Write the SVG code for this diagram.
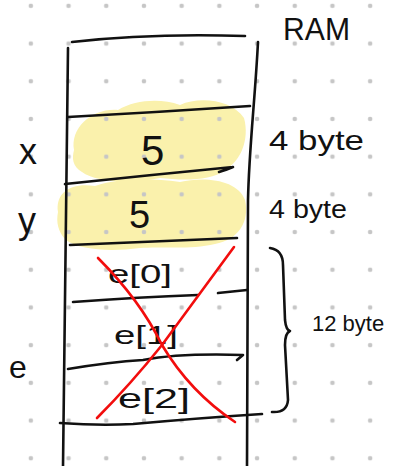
<svg xmlns="http://www.w3.org/2000/svg" width="393" height="466" viewBox="0 0 393 466">
<defs>
<style>
.dot{fill:#c6c6c6}
.ink{fill:none;stroke:#111;stroke-width:2.6;stroke-linecap:round;stroke-linejoin:round}
.red{fill:none;stroke:#f20d0d;stroke-width:2.6;stroke-linecap:round}
.hl{fill:#faf1ac}
.t{font-family:"Liberation Sans","DejaVu Sans",sans-serif;fill:#111}
</style>
<pattern id="grid" x="12" y="-13" width="37.7" height="37.7" patternUnits="userSpaceOnUse">
<circle class="dot" cx="18.85" cy="18.85" r="2.3"/>
</pattern>
</defs>
<rect width="393" height="466" fill="#fff"/>
<g id="highlights">
<path class="hl" d="M74,150 C70,128 92,108 118,110 C135,100 160,98 180,105 C200,96 232,100 244,118 C250,140 240,162 225,170 C210,182 180,180 160,178 C130,184 95,182 82,172 C72,166 72,158 74,150 Z"/>
<path class="hl" d="M58,212 C55,192 72,182 95,186 C120,178 150,178 180,182 C205,176 238,180 245,200 C250,222 238,240 215,244 C190,250 160,246 140,248 C110,252 80,250 66,240 C58,232 56,222 58,212 Z"/>
</g>
<rect width="393" height="466" fill="url(#grid)"/>
<g id="ram">
<path class="ink" d="M68,48 Q65,250 63,466"/>
<path class="ink" d="M258,42 C255,100 249,150 248,200 L247,466"/>
<path class="ink" d="M72,42 Q150,33 245,36"/>
<path class="ink" d="M68,117 Q160,112 250,106"/>
<path class="ink" d="M65,184 Q150,175 233,167 M219,172 Q226,170 233,167"/>
<path class="ink" d="M70,245 L237,238"/>
<path class="ink" d="M73,302 Q140,297 198,295 M218,293 L247,290"/>
<path class="ink" d="M68,369 Q110,362 143,360 Q180,353 243,355 L237,360"/>
<path class="ink" d="M60,423 Q100,426 133,424 Q200,418 262,414"/>
</g>
<g id="brace">
<path class="ink" d="M270,248 Q283,250 283,265 L285,320 Q286,330 290,331 Q285,333 285,345 L288,400 Q287,413 272,412"/>
</g>
<g id="labels">
<text class="t" x="283" y="40" font-size="32" textLength="67" lengthAdjust="spacingAndGlyphs">RAM</text>
<text class="t" x="19" y="164" font-size="36">x</text>
<text class="t" x="18" y="233" font-size="36">y</text>
<text class="t" x="9" y="378" font-size="32">e</text>
<text class="t" x="141" y="165" font-size="42">5</text>
<text class="t" x="129" y="228" font-size="38">5</text>
<text class="t" x="269" y="150" font-size="28" textLength="95" lengthAdjust="spacingAndGlyphs">4 byte</text>
<text class="t" x="269" y="218" font-size="25" textLength="78" lengthAdjust="spacingAndGlyphs">4 byte</text>
<text class="t" x="312" y="331" font-size="22">12 byte</text>
<text class="t" x="108" y="283" font-size="26" textLength="64" lengthAdjust="spacingAndGlyphs">e[0]</text>
<text class="t" x="114" y="344" font-size="26" textLength="64" lengthAdjust="spacingAndGlyphs">e[1]</text>
<text class="t" x="118" y="408" font-size="28" textLength="72" lengthAdjust="spacingAndGlyphs">e[2]</text>
</g>
<g id="cross">
<path class="red" d="M98,258 Q140,300 162,345 Q190,392 235,422"/>
<path class="red" d="M234,247 Q195,300 162,345 Q130,385 97,418"/>
</g>
</svg>
